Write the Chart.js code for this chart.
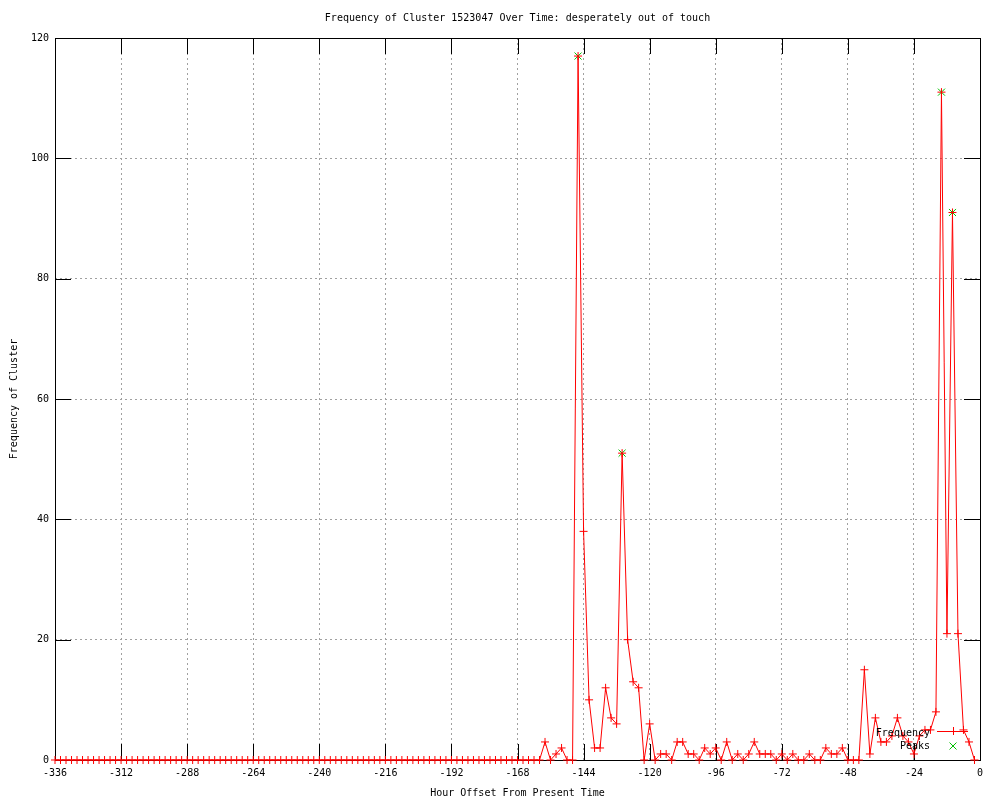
<!DOCTYPE html>
<html>
<head>
<meta charset="utf-8">
<script src="https://cdn.jsdelivr.net/npm/chart.js@4.4.1/dist/chart.umd.min.js"></script>
<style>
  html, body { margin: 0; padding: 0; background: #fff; }
  canvas { display: block; }
</style>
</head>
<body>
<canvas id="grafico" width="1000" height="800"></canvas>
<script>
// horas relativas (a cada 2h)
const horas = [
  -336, -334, -332, -330, -328, -326, -324, -322, -320, -318, -316, -314,
  -312, -310, -308, -306, -304, -302, -300, -298, -296, -294, -292, -290,
  -288, -286, -284, -282, -280, -278, -276, -274, -272, -270, -268, -266,
  -264, -262, -260, -258, -256, -254, -252, -250, -248, -246, -244, -242,
  -240, -238, -236, -234, -232, -230, -228, -226, -224, -222, -220, -218,
  -216, -214, -212, -210, -208, -206, -204, -202, -200, -198, -196, -194,
  -192, -190, -188, -186, -184, -182, -180, -178, -176, -174, -172, -170,
  -168, -166, -164, -162, -160, -158, -156, -154, -152, -150, -148, -146,
  -144, -142, -140, -138, -136, -134, -132, -130, -128, -126, -124, -122,
  -120, -118, -116, -114, -112, -110, -108, -106, -104, -102, -100, -98,
  -96, -94, -92, -90, -88, -86, -84, -82, -80, -78, -76, -74,
  -72, -70, -68, -66, -64, -62, -60, -58, -56, -54, -52, -50,
  -48, -46, -44, -42, -40, -38, -36, -34, -32, -30, -28, -26,
  -24, -22, -20, -18, -16, -14, -12, -10, -8, -6, -4, -2
];

const frequencia = [
  0, 0, 0, 0, 0, 0, 0, 0, 0, 0, 0, 0,
  0, 0, 0, 0, 0, 0, 0, 0, 0, 0, 0, 0,
  0, 0, 0, 0, 0, 0, 0, 0, 0, 0, 0, 0,
  0, 0, 0, 0, 0, 0, 0, 0, 0, 0, 0, 0,
  0, 0, 0, 0, 0, 0, 0, 0, 0, 0, 0, 0,
  0, 0, 0, 0, 0, 0, 0, 0, 0, 0, 0, 0,
  0, 0, 0, 0, 0, 0, 0, 0, 0, 0, 0, 0,
  0, 0, 0, 0, 0, 3, 0, 1, 2, 0, 0, 117,
  38, 10, 2, 2, 12, 7, 6, 51, 20, 13, 12, 0,
  6, 0, 1, 1, 0, 3, 3, 1, 1, 0, 2, 1,
  2, 0, 3, 0, 1, 0, 1, 3, 1, 1, 1, 0,
  1, 0, 1, 0, 0, 1, 0, 0, 2, 1, 1, 2,
  0, 0, 0, 15, 1, 7, 3, 3, 4, 7, 4, 3,
  1, 4, 5, 5, 8, 111, 21, 91, 21, 5, 3, 0
];

const picosHoras = [-146, -130, -14, -10];
const picosValores = [117, 51, 111, 91];

const ticksX = [-336, -312, -288, -264, -240, -216, -192, -168, -144, -120, -96, -72, -48, -24, 0];
const ticksY = [0, 20, 40, 60, 80, 100, 120];

const titulo = 'Frequency of Cluster 1523047 Over Time: desperately out of touch';
const tituloX = 'Hour Offset From Present Time';
const tituloY = 'Frequency of Cluster';
const legendas = ['Frequency', 'Peaks'];

const FONTE = '"DejaVu Sans Mono", "Liberation Mono", monospace';
const VERMELHO = '#ff0000';
const VERDE = '#00c000';

// moldura e ticks para dentro (estilo gnuplot)
const moldura = {
  id: 'moldura',
  beforeDatasetsDraw(chart) {
    const { ctx, chartArea: a, scales } = chart;
    const tam = 16;
    ctx.save();
    ctx.setLineDash([]);
    ctx.strokeStyle = '#000';
    ctx.lineWidth = 1;
    ctx.beginPath();
    ticksX.forEach(v => {
      const x = Math.round(scales.x.getPixelForValue(v)) + 0.5;
      ctx.moveTo(x, a.bottom); ctx.lineTo(x, a.bottom - tam);
      ctx.moveTo(x, a.top); ctx.lineTo(x, a.top + tam);
    });
    ticksY.forEach(v => {
      const y = Math.round(scales.y.getPixelForValue(v)) + 0.5;
      ctx.moveTo(a.left, y); ctx.lineTo(a.left + tam, y);
      ctx.moveTo(a.right, y); ctx.lineTo(a.right - tam, y);
    });
    ctx.stroke();
    ctx.strokeRect(Math.round(a.left) + 0.5, Math.round(a.top) + 0.5,
      Math.round(a.right - a.left), Math.round(a.bottom - a.top));
    ctx.restore();
  }
};

// legenda dentro do grafico, canto inferior direito
const legendaGnuplot = {
  id: 'legendaGnuplot',
  afterDatasetsDraw(chart) {
    const { ctx, chartArea: a } = chart;
    const xTexto = a.right - 50;
    const xAmostra = a.right - 27;
    const y1 = a.bottom - 29;
    const y2 = a.bottom - 14;
    ctx.save();
    ctx.setLineDash([]);
    ctx.font = '10px ' + FONTE;
    ctx.fillStyle = '#000';
    ctx.textAlign = 'right';
    ctx.textBaseline = 'middle';
    ctx.fillText(legendas[0], xTexto, y1 + 2);
    ctx.fillText(legendas[1], xTexto, y2);
    ctx.lineWidth = 1;
    ctx.strokeStyle = VERMELHO;
    ctx.beginPath();
    ctx.moveTo(a.right - 43, y1 + 0.5); ctx.lineTo(a.right - 12, y1 + 0.5);
    ctx.moveTo(xAmostra + 0.5, y1 - 4); ctx.lineTo(xAmostra + 0.5, y1 + 4);
    ctx.stroke();
    ctx.strokeStyle = VERDE;
    ctx.beginPath();
    ctx.moveTo(xAmostra - 3.5, y2 - 3.5); ctx.lineTo(xAmostra + 3.5, y2 + 3.5);
    ctx.moveTo(xAmostra - 3.5, y2 + 3.5); ctx.lineTo(xAmostra + 3.5, y2 - 3.5);
    ctx.stroke();
    ctx.restore();
  }
};

const ctx = document.getElementById('grafico').getContext('2d');

const grafico = new Chart(ctx, {
  type: 'line',
  data: {
    datasets: [{
      label: legendas[0],
      data: horas.map((h, i) => ({ x: h, y: frequencia[i] })),
      borderColor: VERMELHO,
      backgroundColor: VERMELHO,
      borderWidth: 1,
      tension: 0,
      pointStyle: 'cross',
      pointRadius: 4,
      pointBorderWidth: 1,
      pointBorderColor: VERMELHO,
      clip: false
    }, {
      label: legendas[1],
      data: picosHoras.map((h, i) => ({ x: h, y: picosValores[i] })),
      showLine: false,
      borderColor: VERDE,
      backgroundColor: VERDE,
      pointStyle: 'crossRot',
      pointRadius: 5,
      pointBorderWidth: 1,
      pointBorderColor: VERDE,
      clip: false
    }]
  },
  options: {
    responsive: false,
    animation: false,
    layout: { padding: { left: 0, right: 20, top: 0, bottom: 0 } },
    plugins: {
      legend: { display: false },
      tooltip: { enabled: false },
      title: {
        display: true,
        fullSize: false,   // centraliza sobre a area do grafico
        text: titulo,
        color: '#000',
        font: { family: FONTE, size: 10, weight: 'normal' },
        padding: { top: 12, bottom: 14 }
      }
    },
    scales: {
      x: {
        type: 'linear',
        min: -336,
        max: 0,
        afterFit(scale) { scale.height = 40; },
        ticks: {
          stepSize: 24,
          color: '#000',
          padding: 7,
          maxRotation: 0,
          autoSkip: false,
          font: { family: FONTE, size: 10 }
        },
        grid: { color: '#a0a0a0', lineWidth: 1, drawTicks: false },
        border: { display: false, dash: [2, 3] },
        title: {
          display: true,
          text: tituloX,
          color: '#000',
          font: { family: FONTE, size: 10 },
          padding: { top: 0, bottom: 1 }
        }
      },
      y: {
        min: 0,
        max: 120,
        afterFit(scale) { scale.width = 55; },
        ticks: {
          stepSize: 20,
          color: '#000',
          padding: 6,
          font: { family: FONTE, size: 10 }
        },
        grid: { color: '#a0a0a0', lineWidth: 1, drawTicks: false },
        border: { display: false, dash: [2, 3] },
        title: {
          display: true,
          text: tituloY,
          color: '#000',
          font: { family: FONTE, size: 10 },
          padding: { top: 8, bottom: 0 }
        }
      }
    }
  },
  plugins: [moldura, legendaGnuplot]
});
</script>
</body>
</html>
